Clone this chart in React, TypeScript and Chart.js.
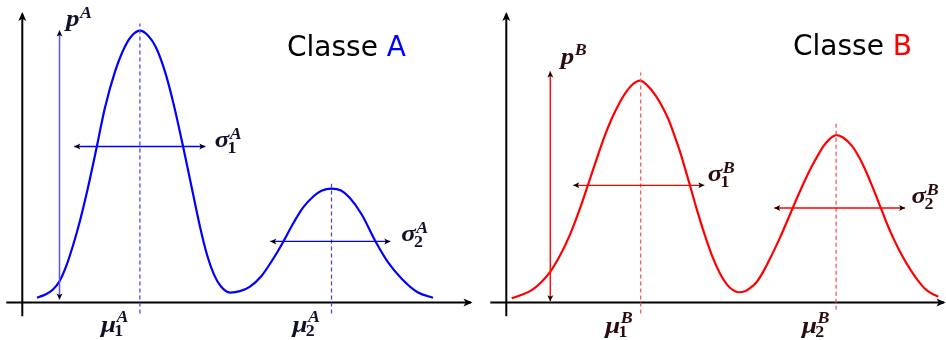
import React, { useEffect, useRef } from "react";
import { Chart, registerables } from "chart.js";
Chart.register(...registerables);

// ---------- Class A : density curve samples (x, p) ----------
const curveAX = [0.3675, 0.5925, 0.7675, 0.925, 1.0925, 1.2675, 1.4425, 1.6425, 1.8425, 2.0675, 2.3175, 2.555, 2.7425, 2.9425,
  3.1425, 3.3425, 3.5675, 3.7925, 4.025, 4.235, 4.4425, 4.6175, 4.7925, 4.9675, 5.1925,
  5.4425, 5.6925, 5.985, 6.2425, 6.525, 6.7675, 7.0175, 7.275, 7.4925, 7.73, 7.9675, 8.18, 8.485, 8.835, 9.15, 9.485, 9.8925, 10.2675];
const curveAY = [0.018, 0.031, 0.048, 0.077, 0.132, 0.21, 0.301, 0.423, 0.559, 0.717, 0.849, 0.938, 0.982, 1.0,
  0.982, 0.938, 0.849, 0.724, 0.57, 0.423, 0.279, 0.176, 0.103, 0.059, 0.037,
  0.042, 0.059, 0.099, 0.154, 0.224, 0.29, 0.349, 0.39, 0.412, 0.419, 0.412, 0.386, 0.324, 0.224, 0.147, 0.088, 0.037, 0.018];
const muA = [2.94, 7.73];
const muTopA = [1.026, 0.437];
const muBottomA = [-0.04, -0.04];
const sigmaLevelA = [0.574, 0.225];
const sigmaLeftA = [1.3, 6.2];
const sigmaRightA = [4.575, 9.2];
const pArrowXA = 0.93;
const pArrowA = [0.011, 1.0];

// ---------- Class B : density curve samples (x, p) ----------
const curveBX = [0.135, 0.3675, 0.635, 0.8675, 1.0925, 1.3425, 1.5925, 1.8175, 2.05, 2.3, 2.4675, 2.635, 2.7925, 2.9675, 3.1425, 3.3425,
  3.5425, 3.735, 3.8925, 4.05, 4.1925, 4.3425, 4.55, 4.7425, 4.9675, 5.1425, 5.3425, 5.5175, 5.6675, 5.8175, 5.9675,
  6.0925, 6.255, 6.425, 6.6175, 6.8425, 7.0175, 7.175, 7.3925, 7.635, 7.7925, 7.925, 8.0925, 8.255,
  8.4175, 8.635, 8.7675, 8.925, 9.1425, 9.36, 9.5175, 9.675, 9.8925, 10.135, 10.2925, 10.4675, 10.6175, 10.8];
const curveBY = [0.016, 0.028, 0.046, 0.074, 0.112, 0.173, 0.25, 0.336, 0.436, 0.546, 0.616, 0.676, 0.724, 0.768, 0.8, 0.816,
  0.796, 0.761, 0.722, 0.675, 0.619, 0.555, 0.452, 0.353, 0.246, 0.173, 0.107, 0.066, 0.046, 0.038, 0.042,
  0.053, 0.075, 0.114, 0.169, 0.239, 0.298, 0.353, 0.426, 0.5, 0.542, 0.574, 0.603, 0.616,
  0.607, 0.577, 0.548, 0.504, 0.43, 0.349, 0.29, 0.237, 0.173, 0.114, 0.081, 0.051, 0.035, 0.022];
const muB = [3.36, 8.245];
const muTopB = [0.846, 0.658];
const muBottomB = [-0.04, -0.026];
const sigmaLevelB = [0.431, 0.348];
const sigmaLeftB = [1.675, 6.7];
const sigmaRightB = [4.95, 9.97];
const pArrowXB = 1.1;
const pArrowB = [0.005, 0.85];

const titleWord = "Classe ";
const classLetters = ["A", "B"];

const MAIN_FONT = 'bold italic 24px "Liberation Serif"';
const SUP_FONT = 'bold italic 16px "Liberation Serif"';
const SUB_FONT = 'bold 16px "Liberation Serif"';
const MATH_STRETCH = 1.12;

const W = 473;
const H = 340;
const X_UNIT = 40;
const Y_UNIT = 272;

type LabelSpec = { main: string; sup: string; sub?: string; dx: number; dy: number; supDy: number; subDy: number; at: "start" | "end" };

function arrowHead(ctx: CanvasRenderingContext2D, x: number, y: number, angle: number, len: number, half: number, color: string) {
  ctx.save();
  ctx.translate(x, y);
  ctx.rotate(angle);
  ctx.fillStyle = color;
  ctx.beginPath();
  ctx.moveTo(0, 0);
  ctx.lineTo(-len, -half);
  ctx.lineTo(-len * 0.75, 0);
  ctx.lineTo(-len, half);
  ctx.closePath();
  ctx.fill();
  ctx.restore();
}

function drawMath(ctx: CanvasRenderingContext2D, x: number, y: number, l: LabelSpec, color: string) {
  ctx.save();
  ctx.translate(x, y);
  ctx.scale(MATH_STRETCH, 1);
  ctx.fillStyle = color;
  ctx.textAlign = "left";
  ctx.textBaseline = "alphabetic";
  ctx.font = MAIN_FONT;
  ctx.fillText(l.main, 0, 0);
  const w = ctx.measureText(l.main).width;
  ctx.font = SUP_FONT;
  ctx.fillText(l.sup, w + 0.5, l.supDy);
  if (l.sub) {
    ctx.font = SUB_FONT;
    ctx.fillText(l.sub, w - 1.5, l.subDy);
  }
  ctx.restore();
}

type PanelCfg = {
  curveX: number[]; curveY: number[];
  mu: number[]; muTop: number[]; muBottom: number[];
  sLevel: number[]; sLeft: number[]; sRight: number[];
  pX: number; pRange: number[];
  letter: string; color: string; dashColor: string; pColor: string; labelColor: string;
  originX: number; baseY: number;
  titleX: number; titleY: number;
  pLabel: [number, number]; sLabels: [number, number][]; muLabels: [number, number][];
  supDy: number;
};

function buildConfig(p: PanelCfg): any {
  const datasets: any[] = [];
  datasets.push({
    data: p.curveX.map((x, i) => ({ x, y: p.curveY[i] })),
    borderColor: p.color, borderWidth: 2.2, pointRadius: 0, cubicInterpolationMode: "monotone", order: 4, fill: false,
  });
  p.mu.forEach((m, i) => {
    datasets.push({
      data: [{ x: m, y: p.muBottom[i] }, { x: m, y: p.muTop[i] }],
      borderColor: p.dashColor, borderWidth: 1.2, borderDash: [4, 3], pointRadius: 0, order: 3,
      mathLabel: { main: "\u03bc", sup: p.letter, sub: String(i + 1), dx: p.muLabels[i][0], dy: p.muLabels[i][1], supDy: -10, subDy: 4, at: "start" },
    });
  });
  p.sLevel.forEach((lv, i) => {
    datasets.push({
      data: [{ x: p.sLeft[i], y: lv }, { x: p.sRight[i], y: lv }],
      borderColor: p.color, borderWidth: 1.4, pointRadius: 0, order: 2, arrows: "both",
      mathLabel: { main: "\u03c3", sup: p.letter, sub: String(i + 1), dx: p.sLabels[i][0], dy: p.sLabels[i][1], supDy: -8, subDy: 6, at: "end" },
    });
  });
  datasets.push({
    data: [{ x: p.pX, y: p.pRange[0] }, { x: p.pX, y: p.pRange[1] }],
    borderColor: p.pColor, borderWidth: 1.5, pointRadius: 0, order: 1, arrows: "both",
    mathLabel: { main: "p", sup: p.letter, dx: p.pLabel[0], dy: p.pLabel[1], supDy: p.supDy, subDy: 0, at: "end" },
  });

  const plugin = {
    id: "decor" + p.letter,
    beforeDatasetsDraw(chart: any) {
      const ctx: CanvasRenderingContext2D = chart.ctx;
      const xs = chart.scales.x, ys = chart.scales.y;
      const ox = xs.getPixelForValue(0), oy = ys.getPixelForValue(0);
      ctx.save();
      ctx.strokeStyle = "#000";
      ctx.lineWidth = 2;
      ctx.beginPath();
      ctx.moveTo(xs.getPixelForValue(-0.4), oy);
      ctx.lineTo(W - 2, oy);
      ctx.moveTo(ox, ys.getPixelForValue(-0.05));
      ctx.lineTo(ox, 14);
      ctx.stroke();
      arrowHead(ctx, W - 0.5, oy, 0, 9, 4, "#000");
      arrowHead(ctx, ox, 12, -Math.PI / 2, 9, 4, "#000");
      ctx.restore();
    },
    afterDatasetsDraw(chart: any) {
      const ctx: CanvasRenderingContext2D = chart.ctx;
      chart.data.datasets.forEach((ds: any, i: number) => {
        const pts = chart.getDatasetMeta(i).data;
        if (ds.arrows) {
          const a = pts[0], b = pts[pts.length - 1];
          const ang = Math.atan2(b.y - a.y, b.x - a.x);
          arrowHead(ctx, b.x, b.y, ang, 6, 3, "#000");
          arrowHead(ctx, a.x, a.y, ang + Math.PI, 6, 3, "#000");
        }
        if (ds.mathLabel) {
          const l = ds.mathLabel as LabelSpec;
          const anchor = l.at === "end" ? pts[pts.length - 1] : pts[0];
          const baseX = anchor.x;
          const baseY = l.at === "start" ? chart.scales.y.getPixelForValue(0) : anchor.y;
          drawMath(ctx, baseX + l.dx, baseY + l.dy, l, p.labelColor);
        }
      });
      ctx.save();
      ctx.font = '28px "DejaVu Sans"';
      ctx.textBaseline = "alphabetic";
      ctx.textAlign = "left";
      ctx.fillStyle = "#000";
      ctx.fillText(titleWord, p.titleX, p.titleY);
      const tw = ctx.measureText(titleWord).width;
      ctx.fillStyle = p.color;
      ctx.fillText(p.letter, p.titleX + tw, p.titleY);
      ctx.restore();
    },
  };

  return {
    type: "line",
    data: { datasets },
    options: {
      animation: false,
      responsive: false,
      maintainAspectRatio: false,
      layout: { padding: 0 },
      events: [],
      plugins: { legend: { display: false }, tooltip: { enabled: false }, title: { display: false } },
      scales: {
        x: { type: "linear", display: false, min: -p.originX / X_UNIT, max: (W - p.originX) / X_UNIT },
        y: { type: "linear", display: false, min: -(H - p.baseY) / Y_UNIT, max: p.baseY / Y_UNIT },
      },
    },
    plugins: [plugin],
  };
}

const panelA: PanelCfg = {
  curveX: curveAX, curveY: curveAY, mu: muA, muTop: muTopA, muBottom: muBottomA,
  sLevel: sigmaLevelA, sLeft: sigmaLeftA, sRight: sigmaRightA, pX: pArrowXA, pRange: pArrowA,
  letter: classLetters[0], color: "#0000ff", dashColor: "#3a3aff", pColor: "#5555ff", labelColor: "#10102a",
  originX: 22.3, baseY: 302.6, titleX: 287, titleY: 56,
  pLabel: [6.5, -5], sLabels: [[9.5, 1], [11, 0]], muLabels: [[-39, 29], [-39, 29]], supDy: -8,
};
const panelB: PanelCfg = {
  curveX: curveBX, curveY: curveBY, mu: muB, muTop: muTopB, muBottom: muBottomB,
  sLevel: sigmaLevelB, sLeft: sigmaLeftB, sRight: sigmaRightB, pX: pArrowXB, pRange: pArrowB,
  letter: classLetters[1], color: "#ff0000", dashColor: "#ff4a4a", pColor: "#ff1010", labelColor: "#2a0c0c",
  originX: 33.3, baseY: 302.6, titleX: 320, titleY: 55,
  pLabel: [10.5, -7.5], sLabels: [[3.5, -4], [6.5, -5]], muLabels: [[-35.5, 30.5], [-34, 30.5]], supDy: -9,
};

function Panel({ cfg }: { cfg: PanelCfg }) {
  const ref = useRef<HTMLCanvasElement | null>(null);
  useEffect(() => {
    if (!ref.current) return;
    const chart = new Chart(ref.current, buildConfig(cfg));
    return () => chart.destroy();
  }, [cfg]);
  return <canvas ref={ref} width={W} height={H} style={{ display: "block", width: W, height: H }} />;
}

export default function App() {
  return (
    <div style={{ position: "fixed", left: 0, top: 0, width: 946, height: 340, display: "flex", background: "#fff" }}>
      <Panel cfg={panelA} />
      <Panel cfg={panelB} />
    </div>
  );
}
